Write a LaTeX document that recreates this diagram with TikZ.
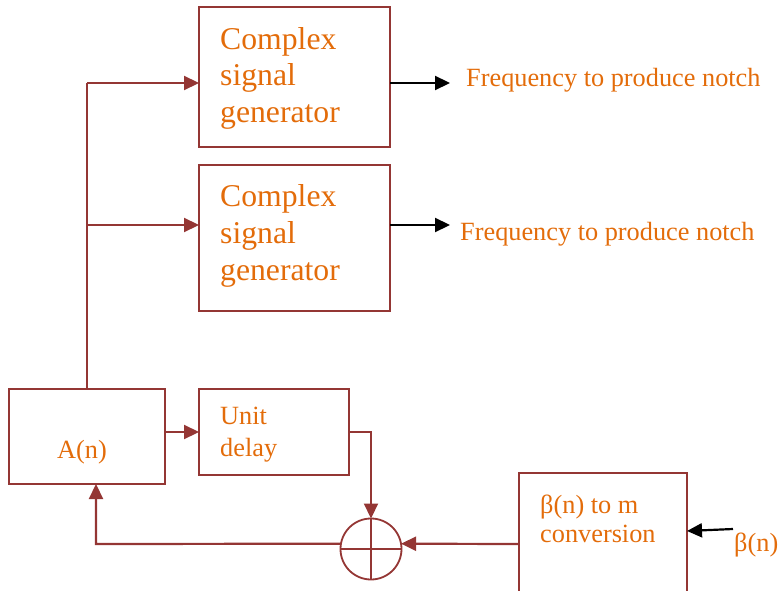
\documentclass[tikz,border=0pt]{standalone}
\usepackage{fontspec}
\setmainfont{Liberation Serif}
\usetikzlibrary{arrows.meta}
\definecolor{brd}{HTML}{943634}
\definecolor{org}{HTML}{E36C0A}
\begin{document}
\begin{tikzpicture}[x=1pt,y=-1pt,
 blk/.style={draw=brd,line width=1.8pt,inner sep=0pt,outer sep=0pt,rectangle},
 lbl/.style={text=org,inner sep=0pt,anchor=base west},
 big/.style={font=\fontsize{31.7}{36.5}\selectfont},
 norm/.style={font=\fontsize{26.3}{32}\selectfont},
 rarr/.style={draw=brd,line width=2.2pt,-{Triangle[length=15pt,width=14pt]}},
 barr/.style={draw=black,line width=2.2pt,-{Triangle[length=15pt,width=14pt]}},
 wire/.style={draw=brd,line width=2pt}]
\clip (0,0) rectangle (779,591);
% boxes
\node[blk,minimum width=191pt,minimum height=140pt] (g1) at (294.5,77) {};
\node[blk,minimum width=191pt,minimum height=146pt] (g2) at (294.5,238) {};
\node[blk,minimum width=156pt,minimum height=95pt] (an) at (87,436.5) {};
\node[blk,minimum width=150pt,minimum height=86pt] (ud) at (274,432) {};
\node[blk,minimum width=168pt,minimum height=142pt] (b) at (603,544) {};
\node[draw=brd,line width=1.8pt,circle,minimum size=61pt,inner sep=0pt,outer sep=0pt] (sum) at (371,549) {};
\draw[brd,line width=1.8pt] (sum.north) -- (sum.south) (sum.west) -- (sum.east);
% texts
\node[lbl,big] (t1a) at (220,50) {Complex};
\node[lbl,big] (t1b) at (220,86) {signal};
\node[lbl,big] (t1c) at (220,123) {generator};
\node[lbl,big] (t2a) at (220,206) {Complex};
\node[lbl,big] (t2b) at (220,243) {signal};
\node[lbl,big] (t2c) at (220,280) {generator};
\node[lbl,norm] (f1) at (466,87) {Frequency to produce notch};
\node[lbl,norm] (f2) at (460,240) {Frequency to produce notch};
\node[lbl,norm] (ta) at (57,458) {A(n)};
\node[lbl,norm] (tu1) at (220,424) {Unit};
\node[lbl,norm] (tu2) at (220,456) {delay};
\node[lbl,norm] (tb1) at (540,513) {β(n) to m};
\node[lbl,norm] (tb2) at (540,542) {conversion};
\node[lbl,norm] (tbn) at (734,551) {β(n)};
% connectors
\coordinate (j1) at (87,83);
\coordinate (j2) at (87,225);
\coordinate (o1) at (450,83);
\coordinate (o2) at (450,225);
\coordinate (bin) at (733,529);
\coordinate (bend) at (96,544);
\draw[wire] (an.north) -- (j1);
\draw[rarr] (j1) -- (j1 -| g1.west);
\draw[rarr] (j2) -- (j2 -| g2.west);
\draw[barr] (j1 -| g1.east) -- (o1);
\draw[barr] (j2 -| g2.east) -- (o2);
\draw[rarr] (an.east |- ud.west) -- (ud.west);
\draw[rarr] (ud.east) -| (sum.north);
\draw[rarr] (b.west) -- (sum.10);
\draw[rarr] (sum.170) -- (bend) -- (bend |- an.south);
\draw[barr] (bin) -- (b.east |- 0,531);
\end{tikzpicture}
\end{document}
